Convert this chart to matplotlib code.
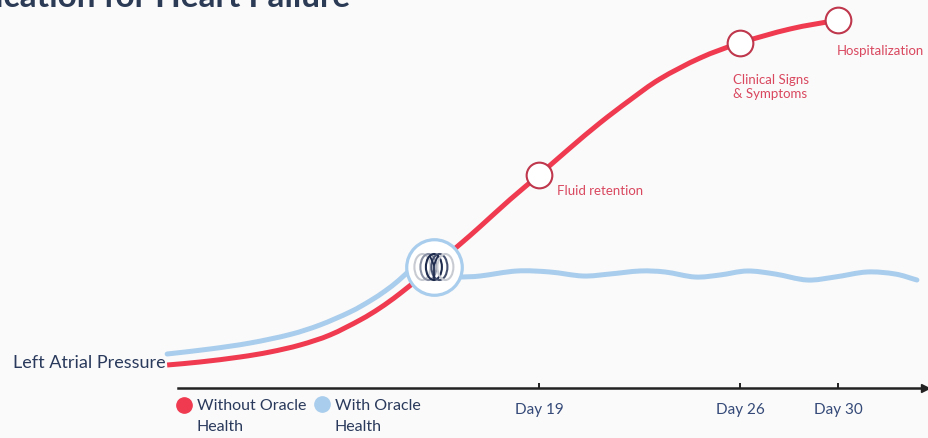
import numpy as np
import matplotlib
matplotlib.use("Agg")
import matplotlib.pyplot as plt
from matplotlib.patches import Ellipse, PathPatch
from matplotlib.path import Path
from matplotlib.lines import Line2D
import matplotlib.transforms as mtransforms

plt.rcParams["font.family"] = ["Lato", "DejaVu Sans"]

# ---------------- data ----------------
title = "Medication for Heart Failure"
y_label = "Left Atrial Pressure"
series_names = [["Without Oracle", "Health"], ["With Oracle", "Health"]]

red_days = [6.05, 7.19, 8.59, 9.63, 10.68, 11.72, 12.77, 13.46, 14.16, 15.34,
            16.25, 16.95, 17.99, 19.0, 20.08, 21.12, 22.17, 23.21, 24.61, 26.0,
            28.04, 30.0]
red_lap = [2.3, 2.6, 3.1, 3.6, 4.3, 5.3, 6.8, 8.0, 9.45, 12.17,
           14.38, 16.14, 18.84, 21.3, 24.0, 26.5, 28.8, 30.9, 33.0, 34.5,
           35.9, 36.8]

# NaN marks the part hidden behind the intervention badge
blue_days = [6.05, 7.54, 8.94, 10.33, 11.37, 12.42, 13.11, 13.64, 14.09, 14.51, 15.03,
             np.nan,
             15.56, 16.32, 16.95, 18.23, 19.38, 20.53, 21.47, 22.52, 23.39, 24.43,
             25.30, 26.29, 27.43, 28.74, 29.88, 31.18, 32.33, 33.22]
blue_lap = [3.4, 3.9, 4.5, 5.35, 6.3, 7.6, 8.7, 9.7, 10.7, 11.8, 13.1,
            np.nan,
            11.0, 11.1, 11.2, 11.7, 11.6, 11.2, 11.4, 11.7, 11.6, 11.1,
            11.3, 11.7, 11.4, 10.8, 11.1, 11.6, 11.4, 10.8]

milestone_days = [19, 26, 30]
milestone_lap = [21.3, 34.5, 36.8]
milestone_labels = ["Fluid retention", "Clinical Signs\n& Symptoms", "Hospitalization"]

tick_days = [19, 26, 30]
tick_labels = ["Day 19", "Day 26", "Day 30"]

intervention_day = 15.34
intervention_lap = 12.1

# ---------------- style ----------------
RED = "#ef3a50"
BLUE = "#a9cdec"
NAVY = "#2a3a5c"
MARK_EDGE = "#bf374c"
ANN = "#d9485f"
BG = "#fafafa"

W, H = 929, 439
fig = plt.figure(figsize=(W / 100, H / 100), dpi=100, facecolor=BG)
ax = fig.add_axes([178 / W, (H - 389) / H, (925 - 178) / W, 389 / H])
ax.set_facecolor(BG)

# schematic (uneven) timeline spacing
_knot_days = np.array([0.0, 19.0, 26.0, 30.0, 50.0])
_knot_pos = np.array([0.0, 19.0 * 28.714, 19.0 * 28.714 + 201.0,
                      19.0 * 28.714 + 299.0, 19.0 * 28.714 + 299.0 + 20 * 24.5])


def _fwd(d):
    return np.interp(d, _knot_days, _knot_pos)


def _inv(p):
    return np.interp(p, _knot_pos, _knot_days)


ax.set_xscale("function", functions=(_fwd, _inv))
ax.set_xlim(6.428, 33.551)
ax.set_ylim(0, 38.9)

for s in ["left", "top", "right"]:
    ax.spines[s].set_visible(False)
ax.spines["bottom"].set_color("#222222")
ax.spines["bottom"].set_linewidth(1.8)
ax.set_yticks([])
ax.set_xticks(tick_days)
ax.set_xticklabels(tick_labels)
ax.xaxis.set_minor_locator(matplotlib.ticker.NullLocator())
ax.tick_params(axis="x", direction="in", length=3.5, width=1.4, color="#222222",
               pad=10, labelsize=11, labelcolor="#354a78")

# arrow head at end of timeline
ax.plot([1.0], [0.0], marker=">", ms=5.5, color="#222222", transform=ax.transAxes,
        clip_on=False, zorder=6)


def smooth_curve(days, vals, **kw):
    """Draw smooth Bezier (Catmull-Rom) curves through the points; NaN splits pieces."""
    x_all = np.asarray(days, float)
    y_all = np.asarray(vals, float)
    breaks = np.where(np.isnan(x_all))[0]
    starts = np.concatenate([[0], breaks + 1])
    ends = np.concatenate([breaks, [len(x_all)]])
    verts, codes = [], []
    for a, b in zip(starts, ends):
        pts = np.column_stack([_fwd(x_all[a:b]), y_all[a:b]])
        ext = np.vstack([2 * pts[0] - pts[1], pts, 2 * pts[-1] - pts[-2]])
        verts.append(pts[0])
        codes.append(Path.MOVETO)
        for i in range(1, len(ext) - 2):
            p0, p1, p2, p3 = ext[i - 1], ext[i], ext[i + 1], ext[i + 2]
            verts += [p1 + (p2 - p0) / 6.0, p2 - (p3 - p1) / 6.0, p2]
            codes += [Path.CURVE4] * 3
    patch = PathPatch(Path(verts, codes), fill=False,
                      transform=ax.transLimits + ax.transAxes, clip_on=False, **kw)
    ax.add_patch(patch)
    return patch


smooth_curve(blue_days, blue_lap, ec=BLUE, lw=3.6, capstyle="round",
             joinstyle="round", zorder=2)
smooth_curve(red_days, red_lap, ec=RED, lw=3.6, capstyle="butt",
             joinstyle="round", zorder=3)

# milestones
ax.plot(milestone_days, milestone_lap, ls="none", marker="o", ms=18.5, mfc="white",
        mec=MARK_EDGE, mew=1.5, zorder=4, clip_on=False)
offsets = [(13, -10.8), (-5, -31), (-1, -21.6)]
for d, v, lab, off in zip(milestone_days, milestone_lap, milestone_labels, offsets):
    ax.annotate(lab, (d, v), xytext=off, textcoords="offset points", ha="left",
                va="center", fontsize=9.5, color=ANN, linespacing=1.15,
                annotation_clip=False)

# intervention circle with logo
ax.plot([intervention_day], [intervention_lap], marker="o", ms=40, mfc="white",
        mec=BLUE, mew=2.3, zorder=5, clip_on=False)
logo_t = fig.dpi_scale_trans + mtransforms.ScaledTranslation(
    intervention_day, intervention_lap, ax.transData)
logo_offsets = [-0.115, -0.055, 0.0, 0.055, 0.115]
logo_cols = ["#c8cbd2", "#8a90a4", "#1e2b4d", "#45506e", "#c8cbd2"]
for dx, c in zip(logo_offsets, logo_cols):
    ax.add_patch(Ellipse((dx, 0.0), 0.16, 0.26, fill=False, ec=c, lw=1.5,
                         transform=logo_t, zorder=6, clip_on=False))
ax.add_line(Line2D([-0.04, 0.0, 0.04], [0.11, 0.02, 0.11], color="#1e2b4d", lw=1.3,
                   transform=logo_t, zorder=7, clip_on=False))
ax.add_line(Line2D([0.0, 0.0], [0.02, -0.11], color="#1e2b4d", lw=1.3,
                   transform=logo_t, zorder=7, clip_on=False))

# y label
fig.text(13 / W, 1 - 363 / H, y_label, ha="left", va="center", fontsize=13,
         color=NAVY)

# title (cut off by the top edge, as in the source)
fig.text(350 / W, 1 - 7 / H, title, ha="right", va="baseline", fontsize=24,
         fontweight="bold", color="#2b3a55")

# legend
leg_items = [(184, 406, RED, series_names[0]), (322, 405, BLUE, series_names[1])]
for px, py, col, lines in leg_items:
    fig.add_artist(Line2D([px / W], [1 - py / H], marker="o", ms=11, color=col,
                          ls="none", transform=fig.transFigure))
    fig.text((px + 13) / W, 1 - 406 / H, lines[0], ha="left", va="center",
             fontsize=11.5, color=NAVY)
    fig.text((px + 13) / W, 1 - 427 / H, lines[1], ha="left", va="center",
             fontsize=11.5, color=NAVY)

fig.savefig("out.png", dpi=100, facecolor=BG)
